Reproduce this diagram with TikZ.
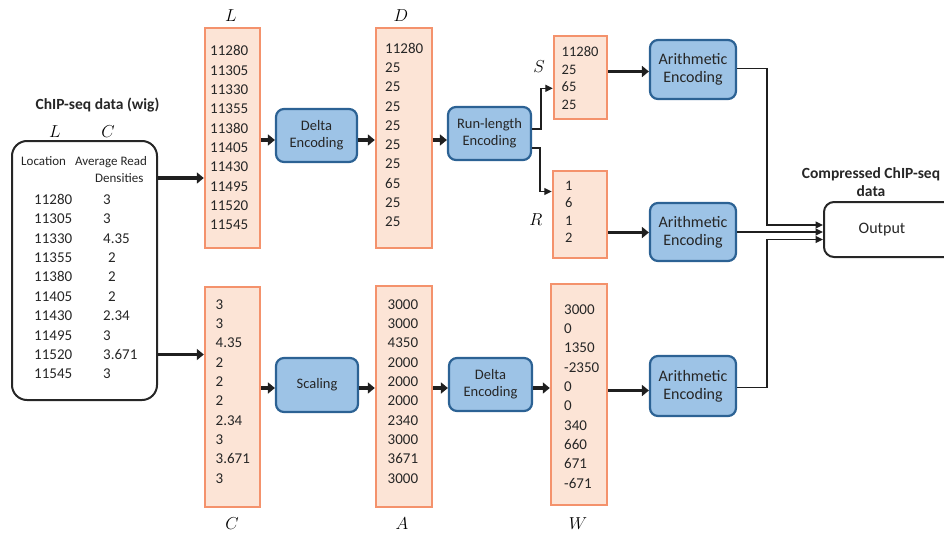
\documentclass[tikz,border=0pt]{standalone}
\usepackage{fontspec}
\setmainfont{Carlito}
\usetikzlibrary{arrows.meta}
\definecolor{peachfill}{RGB}{252,228,214}
\definecolor{peachline}{RGB}{244,146,108}
\definecolor{bluefill}{RGB}{157,195,230}
\definecolor{blueline}{RGB}{44,98,148}
\definecolor{txt}{RGB}{38,38,38}
\begin{document}
\begin{tikzpicture}[x=1pt,y=-1pt,
  colbox/.style={draw=peachline, fill=peachfill, line width=2.4pt, inner sep=0pt},
  procbox/.style={draw=blueline, fill=bluefill, line width=2.2pt, rounded corners=8pt, inner sep=0pt, align=center, text=txt, font=\fontsize{14.5}{17}\selectfont},
  arithbox/.style={procbox, font=\fontsize{16}{18}\selectfont},
  num/.style={inner sep=0pt, anchor=base west, text=txt, font=\fontsize{15}{18}\selectfont},
  snum/.style={num, font=\fontsize{14.5}{17}\selectfont},
  hdr/.style={inner sep=0pt, anchor=base west, text=txt, font=\fontsize{13}{15}\selectfont},
  varlab/.style={inner sep=0pt, anchor=base, font=\fontsize{17}{20}\selectfont},
  ttl/.style={inner sep=0pt, anchor=base, text=txt, font=\bfseries\fontsize{15.5}{18}\selectfont},
  fat/.style={line width=3.6pt, draw=black!88, -{Triangle[length=7pt,width=11pt]}},
  slim/.style={line width=1.3pt, draw=black!88, -{Triangle[length=7.5pt,width=7pt]}},
  frame/.style={draw=black!85, line width=2pt, inner sep=0pt}
]
\useasboundingbox (0,0) rectangle (944,535);

% ---------- input data box ----------
\node[frame, rounded corners=15pt, minimum width=145pt, minimum height=259pt] (wig) at (84.5,270.5) {};
\node[ttl] (wigtitle) at (97.5,109) {ChIP-seq data (wig)};
\node[varlab] (wigL) at (55,137) {$L$};
\node[varlab] (wigC) at (108,137) {$C$};
\node[hdr] (loc) at (21,165) {Location};
\node[hdr] (avg) at (75,165) {Average Read};
\node[hdr] (dens) at (95,182.7) {Densities};
\foreach \v [count=\i] in {11280,11305,11330,11355,11380,11405,11430,11495,11520,11545}
  \node[num] (wl\i) at (34,{184.9+19.4*\i}) {\v};
\foreach \v/\xx [count=\i] in {3/103,3/103,4.35/103,2/108,2/108,2/108,2.34/103,3/103,3.671/103,3/103}
  \node[num] (wc\i) at (\xx,{184.9+19.4*\i}) {\v};

% ---------- columns ----------
\node[colbox, minimum width=55pt, minimum height=220pt] (Lbox) at (232.5,138) {};
\node[varlab] (Llab) at (231,21.7) {$L$};
\foreach \v [count=\i] in {11280,11305,11330,11355,11380,11405,11430,11495,11520,11545}
  \node[num] (Ln\i) at (210,{36.67+19.33*\i}) {\v};

\node[colbox, minimum width=56pt, minimum height=220pt] (Dbox) at (404,138) {};
\node[varlab] (Dlab) at (401,21.7) {$D$};
\foreach \v [count=\i] in {11280,25,25,25,25,25,25,65,25,25}
  \node[num] (Dn\i) at (385,{34.04+19.26*\i}) {\v};

\node[colbox, minimum width=55pt, minimum height=220pt] (Cbox) at (232.5,397) {};
\node[varlab] (Clab) at (232,529) {$C$};
\foreach \v [count=\i] in {3,3,4.35,2,2,2,2.34,3,3.671,3}
  \node[num] (Cn\i) at (215.5,{290+19.33*\i}) {\v};

\node[colbox, minimum width=56pt, minimum height=221pt] (Abox) at (404,396.5) {};
\node[varlab] (Alab) at (402,529) {$A$};
\foreach \v [count=\i] in {3000,3000,4350,2000,2000,2000,2340,3000,3671,3000}
  \node[num] (An\i) at (387.5,{290+19.33*\i}) {\v};

\node[colbox, minimum width=56pt, minimum height=221pt] (Wbox) at (579,394.5) {};
\node[varlab] (Wlab) at (578,529) {$W$};
\foreach \v [count=\i] in {3000,0,1350,-2350,0,0,340,660,671,-671}
  \node[num] (Wn\i) at (564,{295+19.33*\i}) {\v};

\node[colbox, minimum width=53pt, minimum height=83pt] (Sbox) at (580.5,77.5) {};
\node[varlab] (Slab) at (539,72.3) {$S$};
\foreach \v [count=\i] in {11280,25,65,25}
  \node[snum] (Sn\i) at (561.5,{39.2+17.5*\i}) {\v};

\node[colbox, minimum width=54pt, minimum height=87pt] (Rbox) at (580,214.5) {};
\node[varlab] (Rlab) at (536,225) {$R$};
\foreach \v [count=\i] in {1,6,1,2}
  \node[snum] (Rn\i) at (565,{172.5+17.5*\i}) {\v};

% ---------- process boxes ----------
\node[procbox, minimum width=81pt, minimum height=53pt] (delta1) at (316.5,135.5) {Delta\\Encoding};
\node[procbox, minimum width=83pt, minimum height=53pt] (rle) at (489.5,133.5) {Run-length\\Encoding};
\node[procbox, minimum width=82pt, minimum height=54pt] (scaling) at (317,385) {Scaling};
\node[procbox, minimum width=83pt, minimum height=53pt] (delta2) at (490.5,384.5) {Delta\\Encoding};
\node[arithbox, minimum width=86pt, minimum height=59pt] (arith1) at (693,69.5) {Arithmetic\\Encoding};
\node[arithbox, minimum width=86pt, minimum height=58pt] (arith2) at (693,232) {Arithmetic\\Encoding};
\node[arithbox, minimum width=86pt, minimum height=60pt] (arith3) at (693,386) {Arithmetic\\Encoding};

% ---------- output ----------
\node[frame, rounded corners=10pt, minimum width=140pt, minimum height=55pt] (out) at (894,229.5) {};
\node[inner sep=0pt, anchor=base, text=txt, font=\fontsize{16}{18}\selectfont] (outtxt) at (882,233) {Output};
\node[ttl] (ct1) at (871,178) {Compressed ChIP-seq};
\node[ttl] (ct2) at (871,196) {data};

% ---------- connectors ----------
\draw[fat] (wig.east |- 0,178) -- (Lbox.west |- 0,178);
\draw[fat] (wig.east |- 0,354.5) -- (Cbox.west |- 0,354.5);
\draw[fat] (Lbox.east |- 0,140) -- (delta1.west |- 0,140);
\draw[fat] (delta1.east |- 0,140) -- (Dbox.west |- 0,140);
\draw[fat] (Dbox.east |- 0,140) -- (rle.west |- 0,140);
\draw[fat] (Cbox.east |- 0,388) -- (scaling.west |- 0,388);
\draw[fat] (scaling.east |- 0,388) -- (Abox.west |- 0,388);
\draw[fat] (Abox.east |- 0,388) -- (delta2.west |- 0,388);
\draw[fat] (delta2.east |- 0,388) -- (Wbox.west |- 0,388);
\draw[fat] (Sbox.east |- 0,71.5) -- (arith1.west |- 0,71.5);
\draw[fat] (Rbox.east |- 0,232.5) -- (arith2.west |- 0,232.5);
\draw[fat] (Wbox.east |- 0,390.5) -- (arith3.west |- 0,390.5);

\draw[slim] (rle.east |- 0,129) -- (541,129) |- (Sbox.west |- 0,88.3);
\draw[slim] (rle.east |- 0,148) -- (540,148) |- (Rbox.west |- 0,191.5);
\draw[slim] (arith1.east |- 0,68.5) -- (767,68.5) |- (out.west |- 0,225);
\draw[slim] (arith2.east |- 0,232) -- (out.west |- 0,232);
\draw[slim] (arith3.east |- 0,387.5) -- (767,387.5) |- (out.west |- 0,239.5);
\end{tikzpicture}
\end{document}
